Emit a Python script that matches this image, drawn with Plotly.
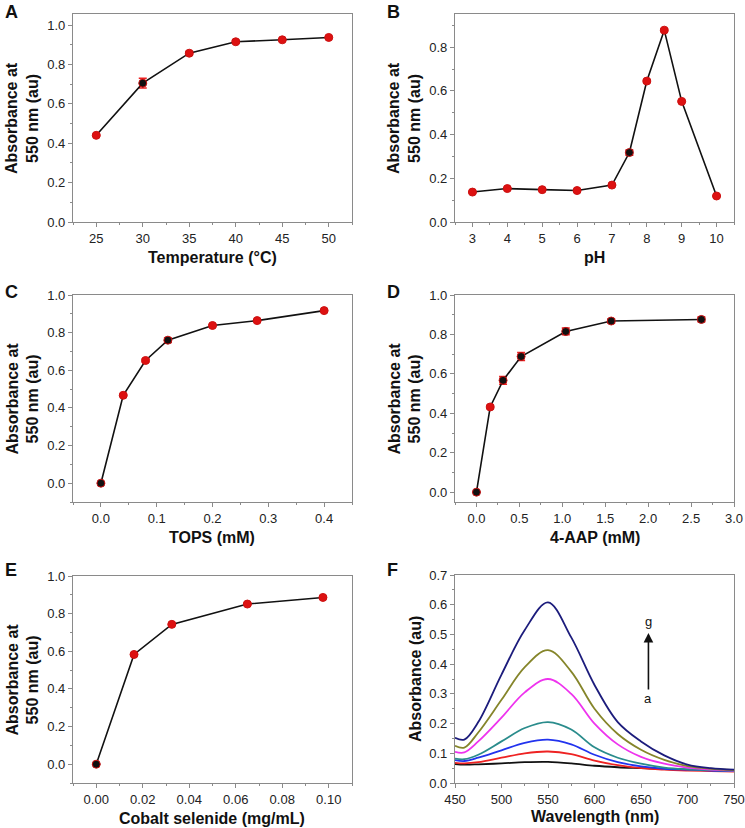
import plotly.graph_objects as go

# ---------------- data ----------------
temp_x = [25, 30, 35, 40, 45, 50]
temp_y = [0.440, 0.705, 0.857, 0.915, 0.925, 0.937]
temp_err = [0.005, 0.025, 0.008, 0.008, 0.005, 0.005]

ph_x = [3, 4, 5, 6, 7, 7.5, 8, 8.5, 9, 10]
ph_y = [0.137, 0.153, 0.148, 0.144, 0.169, 0.318, 0.645, 0.878, 0.552, 0.119]
ph_err = [0.004, 0.004, 0.004, 0.004, 0.004, 0.012, 0.006, 0.006, 0.004, 0.004]

tops_x = [0.0, 0.04, 0.08, 0.12, 0.20, 0.28, 0.40]
tops_y = [0.0, 0.467, 0.652, 0.760, 0.838, 0.864, 0.917]
tops_err = [0.0, 0.005, 0.008, 0.012, 0.005, 0.005, 0.005]

aap_x = [0.0, 0.16, 0.31, 0.52, 1.04, 1.57, 2.62]
aap_y = [0.0, 0.432, 0.567, 0.688, 0.815, 0.868, 0.876]
aap_err = [0.0, 0.008, 0.020, 0.020, 0.017, 0.010, 0.012]

co_x = [0.0, 0.01625, 0.0325, 0.065, 0.0975]
co_y = [0.0, 0.583, 0.743, 0.851, 0.886]
co_err = [0.0, 0.005, 0.005, 0.005, 0.005]

wl = [450, 460, 475, 500, 525, 550, 575, 600, 625, 650, 675, 700, 725, 750]
abs_a = [0.064, 0.062, 0.063, 0.066, 0.070, 0.071, 0.066, 0.058, 0.053, 0.050, 0.047, 0.045, 0.044, 0.043]
abs_b = [0.068, 0.066, 0.070, 0.085, 0.100, 0.106, 0.097, 0.075, 0.060, 0.050, 0.045, 0.042, 0.040, 0.038]
abs_c = [0.077, 0.074, 0.085, 0.110, 0.135, 0.146, 0.130, 0.095, 0.070, 0.056, 0.048, 0.045, 0.042, 0.040]
abs_d = [0.082, 0.080, 0.095, 0.140, 0.185, 0.205, 0.180, 0.120, 0.085, 0.065, 0.052, 0.046, 0.043, 0.041]
abs_e = [0.105, 0.103, 0.140, 0.220, 0.305, 0.350, 0.300, 0.200, 0.130, 0.088, 0.065, 0.052, 0.045, 0.042]
abs_f = [0.125, 0.119, 0.170, 0.280, 0.390, 0.447, 0.375, 0.250, 0.165, 0.112, 0.078, 0.057, 0.048, 0.043]
abs_g = [0.152, 0.146, 0.205, 0.365, 0.515, 0.608, 0.490, 0.330, 0.205, 0.140, 0.093, 0.062, 0.050, 0.045]
spectra = [abs_a, abs_b, abs_c, abs_d, abs_e, abs_f, abs_g]
spectra_colors = ["#111111", "#ee2222", "#2233ee", "#2a8c8c", "#ee33ee", "#85852a", "#1c1c7c"]

# ---------------- layout helpers ----------------
W, H = 745, 828
FONT = "Liberation Sans, Arial, sans-serif"

def dx(a, b):
    return [a / W, b / W]

def dy(top, bottom):
    return [1 - bottom / H, 1 - top / H]

panels = [
    ((73, 352), (14, 222)),
    ((455, 734), (14, 222)),
    ((73, 352), (295, 502)),
    ((455, 734), (295, 502)),
    ((73, 352), (576, 783)),
    ((455, 734), (575, 783)),
]
letter_pos = [(3, 0), (385, 0), (3, 280), (385, 280), (3, 558), (385, 558)]

fig = go.Figure()

def add_series(i, xs, ys, errs):
    cols = ["#111111" if (y == 0 or e >= 0.01) else "#dd1111" for y, e in zip(ys, errs)]
    fig.add_trace(go.Scatter(
        x=xs, y=ys, mode="lines+markers",
        line=dict(color="#111111", width=1.6),
        marker=dict(size=8, color=cols, line=dict(width=1, color="#cc1111")),
        error_y=dict(type="data", array=errs, color="#ee2222", thickness=1.5, width=4),
        xaxis=f"x{i}", yaxis=f"y{i}", showlegend=False,
    ))

add_series(1, temp_x, temp_y, temp_err)
add_series(2, ph_x, ph_y, ph_err)
add_series(3, tops_x, tops_y, tops_err)
add_series(4, aap_x, aap_y, aap_err)
add_series(5, co_x, co_y, co_err)

for ys, c in zip(spectra, spectra_colors):
    fig.add_trace(go.Scatter(
        x=wl, y=ys, mode="lines", line=dict(color=c, width=1.8, shape="spline", smoothing=1.0),
        xaxis="x6", yaxis="y6", showlegend=False,
    ))

xcfg = [
    dict(range=[22.5, 52.5], dtick=5, tick0=25, minor_dtick=2.5, fmt=""),
    dict(range=[2.5, 10.5], dtick=1, tick0=3, minor_dtick=0.5, fmt=""),
    dict(range=[-0.05, 0.45], dtick=0.1, tick0=0, minor_dtick=0.05, fmt=".1f"),
    dict(range=[-0.25, 3.0], dtick=0.5, tick0=0, minor_dtick=0.25, fmt=".1f"),
    dict(range=[-0.01, 0.11], dtick=0.02, tick0=0, minor_dtick=0.01, fmt=".2f"),
    dict(range=[450, 750], dtick=50, tick0=450, minor_dtick=25, fmt=""),
]
ycfg = [
    dict(range=[0, 1.056], dtick=0.2, minor_dtick=0.1),
    dict(range=[0, 0.952], dtick=0.2, minor_dtick=0.1),
    dict(range=[-0.1, 1.0], dtick=0.2, minor_dtick=0.1),
    dict(range=[-0.05, 1.0], dtick=0.2, minor_dtick=0.1),
    dict(range=[-0.1, 1.0], dtick=0.2, minor_dtick=0.1),
    dict(range=[0, 0.7], dtick=0.1, minor_dtick=0.05),
]

axcommon = dict(
    showgrid=False, zeroline=False, showline=True, mirror=True, automargin=False,
    linecolor="#8a8a8a", linewidth=1.2, ticks="outside", ticklen=4,
    tickcolor="#8a8a8a", tickwidth=1,
    tickfont=dict(family=FONT, size=13, color="#222222"),
)

layout = dict(
    width=W, height=H, margin=dict(l=0, r=0, t=0, b=0, autoexpand=False),
    paper_bgcolor="white", plot_bgcolor="white",
    font=dict(family=FONT, color="#111111"),
)

for i, ((x0, x1), (y0, y1)) in enumerate(panels, start=1):
    xc, yc = xcfg[i - 1], ycfg[i - 1]
    xa = dict(axcommon, domain=dx(x0, x1), anchor=f"y{i}", range=xc["range"],
              tick0=xc["tick0"], dtick=xc["dtick"], tickformat=xc["fmt"],
              minor=dict(ticks="outside", ticklen=2, dtick=xc["minor_dtick"], tickcolor="#8a8a8a"))
    ya = dict(axcommon, domain=dy(y0, y1), anchor=f"x{i}", range=yc["range"],
              tick0=0, dtick=yc["dtick"], tickformat=".1f",
              minor=dict(ticks="outside", ticklen=2, dtick=yc["minor_dtick"], tickcolor="#8a8a8a"))
    layout[f"xaxis{i}" if i > 1 else "xaxis"] = xa
    layout[f"yaxis{i}" if i > 1 else "yaxis"] = ya

fig.update_layout(**layout)

xtitles = ["Temperature (°C)", "pH", "TOPS (mM)", "4-AAP (mM)", "Cobalt selenide (mg/mL)", "Wavelength (nm)"]
ytitles = ["Absorbance at<br>550 nm (au)"] * 5 + ["Absorbance (au)"]
letters = ["A", "B", "C", "D", "E", "F"]

annotations = []
for i, ((x0, x1), (y0, y1)) in enumerate(panels):
    off = 33 if i == 5 else 35
    annotations.append(dict(
        text=f"<b>{xtitles[i]}</b>", xref="paper", yref="paper",
        x=((x0 + x1) / 2) / W, y=1 - (y1 + off) / H, xanchor="center", yanchor="middle",
        showarrow=False, font=dict(family=FONT, size=16, color="#111111"),
    ))
    yoff = 51 if i < 5 else 40
    annotations.append(dict(
        text=f"<b>{ytitles[i]}</b>", xref="paper", yref="paper", textangle=-90,
        x=(x0 - yoff) / W, y=1 - ((y0 + y1) / 2) / H, xanchor="center", yanchor="middle",
        showarrow=False, font=dict(family=FONT, size=16, color="#111111"),
    ))
    lx, ly = letter_pos[i]
    annotations.append(dict(
        text=f"<b>{letters[i]}</b>", xref="paper", yref="paper",
        x=lx / W, y=1 - ly / H, xanchor="left", yanchor="top", showarrow=False,
        font=dict(family=FONT, size=18, color="#111111"),
    ))

annotations.append(dict(
    x=658, y=0.505, ax=658, ay=0.31, xref="x6", yref="y6", axref="x6", ayref="y6",
    showarrow=True, arrowhead=2, arrowsize=1.2, arrowwidth=1.6, arrowcolor="#111111", text="",
))
annotations.append(dict(x=658, y=0.545, xref="x6", yref="y6", text="g", showarrow=False,
                        font=dict(family=FONT, size=13, color="#111111")))
annotations.append(dict(x=658, y=0.285, xref="x6", yref="y6", text="a", showarrow=False,
                        font=dict(family=FONT, size=13, color="#111111")))

fig.update_layout(annotations=annotations)
fig.write_html("out.html", config={"displayModeBar": False},
               post_script="document.body.style.margin='0';document.body.style.overflow='hidden';")
